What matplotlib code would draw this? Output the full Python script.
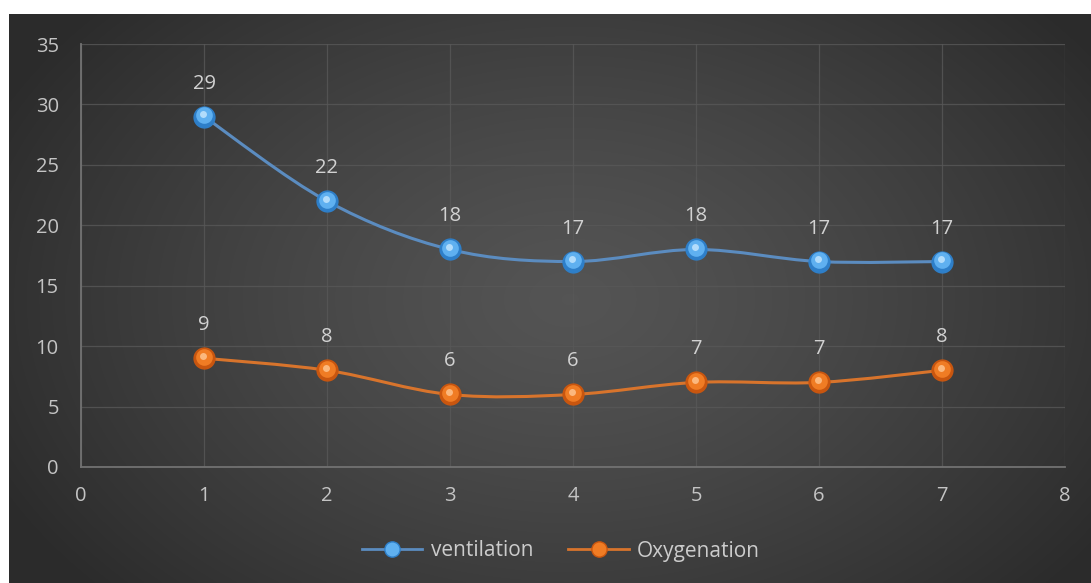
import numpy as np
import matplotlib
matplotlib.use("Agg")
import matplotlib.pyplot as plt
import matplotlib.transforms as mtransforms
from matplotlib.path import Path
from matplotlib.patches import PathPatch
from matplotlib.lines import Line2D

x_vals = [1, 2, 3, 4, 5, 6, 7]
ventilation = [29, 22, 18, 17, 18, 17, 17]
oxygenation = [9, 8, 6, 6, 7, 7, 8]
series_names = ["ventilation", "Oxygenation"]
x_ticks = [0, 1, 2, 3, 4, 5, 6, 7, 8]
y_ticks = [0, 5, 10, 15, 20, 25, 30, 35]

W, H = 1091, 583
fig = plt.figure(figsize=(W / 100, H / 100), dpi=100)
fig.patch.set_facecolor("white")

# background with radial gradient
bg = fig.add_axes([9 / W, 0, 1 - 9 / W, 1 - 14 / H])
bg.set_axis_off()
yy, xx = np.mgrid[0:300, 0:560]
cx, cy = 290, 150
r = np.sqrt(((xx - cx) / 330.0) ** 2 + ((yy - cy) / 230.0) ** 2)
r = np.clip(r, 0, 1)
c0, c1 = 0.33, 0.17
val = c0 + (c1 - c0) * r ** 1.3
img = np.dstack([val, val, val])
bg.imshow(img, aspect="auto", extent=[0, 1, 0, 1], interpolation="bilinear")
bg.set_xlim(0, 1)
bg.set_ylim(0, 1)

ax = fig.add_axes([81 / W, 1 - 467 / H, (1065 - 81) / W, (467 - 44) / H])
ax.set_facecolor("none")
ax.set_xlim(0, 8)
ax.set_ylim(0, 35)
ax.set_xticks(x_ticks)
ax.set_yticks(y_ticks)
ax.grid(True, color="#585858", linewidth=0.9, alpha=0.8)
ax.set_axisbelow(True)
for s in ["top", "right"]:
    ax.spines[s].set_visible(False)
for s in ["left", "bottom"]:
    ax.spines[s].set_color("#727272")
    ax.spines[s].set_linewidth(1.3)
ax.tick_params(axis="y", length=0, colors="#c4c4c4", labelsize=14.5, pad=16)
ax.tick_params(axis="x", length=0, colors="#c4c4c4", labelsize=14.5, pad=14)
for lab in ax.get_xticklabels() + ax.get_yticklabels():
    lab.set_fontfamily("Open Sans")
    lab.set_color("#c4c4c4")


def smooth_path(xs, ys, t=1 / 6.0):
    xs = np.asarray(xs, float)
    ys = np.asarray(ys, float)
    n = len(xs)
    verts = [(xs[0], ys[0])]
    codes = [Path.MOVETO]
    for i in range(n - 1):
        p0 = np.array([xs[max(i - 1, 0)], ys[max(i - 1, 0)]])
        p1 = np.array([xs[i], ys[i]])
        p2 = np.array([xs[i + 1], ys[i + 1]])
        p3 = np.array([xs[min(i + 2, n - 1)], ys[min(i + 2, n - 1)]])
        c1 = p1 + (p2 - p0) * t
        c2 = p2 - (p3 - p1) * t
        verts += [tuple(c1), tuple(c2), tuple(p2)]
        codes += [Path.CURVE4] * 3
    return Path(verts, codes)


series = [
    (ventilation, "#5b8cc0", "#2e7fc9", "#5fb0f0", "#c8e8ff"),
    (oxygenation, "#d8742c", "#c9560f", "#f07c24", "#ffc896"),
]
hl_off = mtransforms.ScaledTranslation(-1.5 / 100, 2.5 / 100, fig.dpi_scale_trans)
for ys, lc, mdark, mmid, hc in series:
    p = smooth_path(x_vals, ys)
    ax.add_patch(PathPatch(p, facecolor="none", edgecolor=lc, lw=2.2, zorder=3))
    ax.plot(x_vals, ys, linestyle="none", marker="o", markersize=15,
            markerfacecolor=mdark, markeredgecolor=mdark, zorder=4)
    ax.plot(x_vals, ys, linestyle="none", marker="o", markersize=12,
            markerfacecolor=mmid, markeredgecolor="none", zorder=5,
            transform=ax.transData + mtransforms.ScaledTranslation(-0.5 / 100, 1.5 / 100, fig.dpi_scale_trans))
    ax.plot(x_vals, ys, linestyle="none", marker="o", markersize=5,
            markerfacecolor=hc, markeredgecolor="none", alpha=0.8, zorder=6,
            transform=ax.transData + hl_off)
    for xv, yv in zip(x_vals, ys):
        ax.annotate(str(yv), (xv, yv), xytext=(0, 33), textcoords="offset pixels",
                    ha="center", va="center", color="#d2d2d2", fontsize=14.5,
                    family="Open Sans", zorder=7)

handles = [
    Line2D([0], [0], color=series[0][1], lw=2.0, marker="o", markersize=11,
           markerfacecolor=series[0][3], markeredgecolor=series[0][2]),
    Line2D([0], [0], color=series[1][1], lw=2.0, marker="o", markersize=11,
           markerfacecolor=series[1][3], markeredgecolor=series[1][2]),
]
leg = fig.legend(handles, series_names, loc="center", bbox_to_anchor=(561 / W, 1 - 551 / H),
                 ncol=2, frameon=False, handlelength=2.9, columnspacing=1.7,
                 handletextpad=0.4, prop={"family": "Open Sans", "size": 15})
for t in leg.get_texts():
    t.set_color("#cccccc")

fig.savefig("out.png", dpi=100, facecolor=fig.get_facecolor())
